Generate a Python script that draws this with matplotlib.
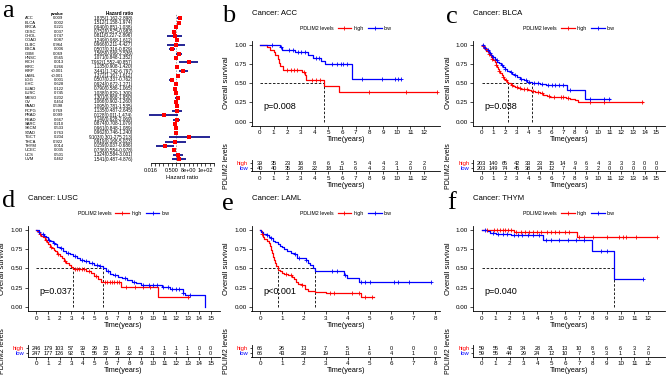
import numpy as np
import matplotlib
matplotlib.use("Agg")
import matplotlib.pyplot as plt
from matplotlib.lines import Line2D
from matplotlib import transforms

plt.rcParams['font.family'] = ['Liberation Sans', 'DejaVu Sans']

# ---------------- data: forest plot (panel a) ----------------
cancers = ["ACC", "BLCA", "BRCA", "CESC", "CHOL", "COAD", "DLBC", "ESCA", "GBM", "HNSC",
           "KICH", "KIRC", "KIRP", "LAML", "LGG", "LIHC", "LUAD", "LUSC", "MESO", "OV",
           "PAAD", "PCPG", "PRAD", "READ", "SARC", "SKCM", "STAD", "TGCT", "THCA", "THYM",
           "UCEC", "UCS", "UVM"]
hr = [1.835, 1.512, 0.940, 0.752, 0.811, 1.249, 0.966, 0.507, 1.565, 1.071,
      7.962, 1.135, 3.441, 1.372, 0.507, 0.924, 0.790, 1.038, 1.301, 1.066,
      1.095, 1.135, 0.128, 1.140, 0.874, 0.961, 0.962, 9.103, 0.919, 0.159,
      0.736, 1.324, 1.541]
hr_low = [1.162, 1.158, 0.851, 0.575, 0.227, 0.968, 0.211, 0.316, 0.966, 0.848,
          1.552, 0.908, 1.742, 1.167, 0.337, 0.672, 0.586, 0.829, 0.868, 0.902,
          0.781, 0.487, 0.011, 0.628, 0.708, 0.848, 0.746, 0.301, 0.168, 0.037,
          0.554, 0.584, 0.487]
hr_high = [2.898, 1.974, 1.038, 0.983, 2.896, 1.612, 4.427, 0.829, 2.536, 1.352,
           40.857, 1.420, 6.797, 1.612, 0.762, 1.271, 1.065, 1.300, 1.950, 1.260,
           1.535, 2.645, 1.474, 2.069, 1.079, 1.089, 1.240, 275.213, 5.023, 0.686,
           0.978, 3.001, 4.876]
pvalues = ["0.009", "0.002", "0.221", "0.037", "0.747", "0.087", "0.964", "0.006", "0.069", "0.565",
           "0.013", "0.266", "<0.001", "<0.001", "0.001", "0.628", "0.122", "0.745", "0.202", "0.454",
           "0.598", "0.769", "0.099", "0.667", "0.210", "0.533", "0.763", "0.204", "0.922", "0.014",
           "0.035", "0.501", "0.462"]
forest_tick_exp = list(range(-6, 10))
forest_tick_labels = {-6: "0.016", -1: "0.500", 3: "8e+00", 7: "1e+02"}

# ---------------- data: KM curves ----------------
# ACC
acc_high_t = [0, 0.5, 0.75, 1.0, 1.1, 1.3, 1.4, 1.5, 1.7, 3.05, 3.3, 3.4, 4.68, 5.8, 12.95]
acc_high_s = [1, 0.97, 0.93, 0.90, 0.87, 0.81, 0.76, 0.72, 0.67, 0.64, 0.60, 0.54, 0.46, 0.38, 0.38]
acc_high_cens = [2.0, 2.3, 2.5, 2.7, 3.2, 3.8, 4.1, 4.4, 8.0, 10.7, 12.95]
acc_low_t = [0, 1.45, 1.6, 2.55, 3.5, 3.9, 4.45, 4.75, 6.7, 10.35]
acc_low_s = [1, 0.97, 0.93, 0.90, 0.86, 0.83, 0.79, 0.75, 0.56, 0.56]
acc_low_cens = [0.9, 1.55, 2.1, 2.4, 2.8, 3.0, 3.3, 4.1, 4.3, 5.3, 5.6, 5.9, 6.1, 6.35, 7.5, 8.9, 9.9, 10.1, 10.35]
acc_risk_high = [39, 35, 23, 16, 8, 6, 5, 5, 4, 4, 3, 2, 2]
acc_risk_low = [40, 40, 35, 28, 22, 18, 11, 6, 4, 3, 1, 0, 0]

# BLCA
blca_high_t = [0, 0.1, 0.2, 0.3, 0.4, 0.5, 0.6, 0.7, 0.8, 0.9, 1.0, 1.1, 1.2, 1.3, 1.4, 1.5, 1.6, 1.7, 1.8, 1.9,
               2.0, 2.15, 2.3, 2.5, 2.7, 2.9, 3.1, 3.4, 3.7, 4.0, 4.2, 4.6, 5.0, 5.3, 5.6, 5.9, 7.2, 7.6, 8.0, 8.3, 13.9]
blca_high_s = [1, 0.98, 0.96, 0.94, 0.92, 0.90, 0.88, 0.86, 0.84, 0.82, 0.80, 0.77, 0.74, 0.71, 0.68, 0.66, 0.63, 0.61,
               0.58, 0.56, 0.54, 0.52, 0.50, 0.48, 0.46, 0.45, 0.44, 0.43, 0.42, 0.41, 0.40, 0.39, 0.37, 0.35, 0.33,
               0.32, 0.31, 0.30, 0.28, 0.26, 0.26]
blca_high_cens = [0.15, 0.35, 0.6, 0.9, 1.2, 1.5, 1.8, 2.1, 2.6, 3.0, 3.3, 3.6, 3.9, 4.4, 4.8, 5.2, 5.8, 6.2,
                  6.8, 7.0, 7.4, 9.3, 10.5, 13.8]
blca_low_t = [0, 0.1, 0.2, 0.3, 0.4, 0.5, 0.6, 0.7, 0.8, 0.9, 1.0, 1.1, 1.2, 1.35, 1.5, 1.65, 1.8, 2.0, 2.2, 2.4,
              2.6, 2.8, 3.0, 3.3, 3.6, 3.9, 4.3, 5.0, 5.5, 7.3, 8.9, 11.0]
blca_low_s = [1, 0.99, 0.97, 0.96, 0.94, 0.93, 0.91, 0.89, 0.87, 0.85, 0.84, 0.82, 0.80, 0.78, 0.76, 0.74, 0.71,
              0.68, 0.66, 0.64, 0.62, 0.60, 0.58, 0.56, 0.54, 0.52, 0.50, 0.49, 0.47, 0.41, 0.30, 0.30]
blca_low_cens = [0.1, 0.3, 0.5, 0.7, 1.0, 1.3, 1.7, 2.0, 2.5, 2.9, 3.4, 3.8, 4.1, 4.5, 4.8, 5.2, 5.7, 6.0,
                 6.3, 6.6, 7.0, 7.6, 9.3, 10.5, 10.9]
blca_risk_high = [203, 140, 65, 42, 33, 23, 15, 14, 9, 6, 4, 3, 3, 3, 0, 0]
blca_risk_low = [203, 149, 74, 45, 38, 24, 12, 7, 4, 3, 2, 0, 0, 0, 0, 0]

# LUSC
lusc_high_t = [0, 0.1, 0.2, 0.3, 0.45, 0.6, 0.75, 0.9, 1.05, 1.2, 1.35, 1.5, 1.65, 1.8, 2.0, 2.2, 2.4, 2.6, 2.8,
               3.0, 3.15, 4.3, 4.7, 5.0, 5.3, 5.6, 7.3, 10.5, 13.1]
lusc_high_s = [1, 0.98, 0.96, 0.94, 0.92, 0.90, 0.87, 0.84, 0.81, 0.78, 0.76, 0.74, 0.72, 0.69, 0.66, 0.63, 0.60,
               0.57, 0.55, 0.52, 0.49, 0.46, 0.44, 0.40, 0.36, 0.33, 0.26, 0.13, 0.13]
lusc_high_cens = [0.3, 0.8, 1.3, 1.9, 2.5, 3.3, 3.5, 3.7, 3.9, 4.1, 4.5, 5.1, 5.9, 6.1, 6.3, 6.5, 6.7, 6.9,
                  7.1, 7.7, 8.5, 9.2, 9.8, 13.0]
lusc_low_t = [0, 0.1, 0.2, 0.35, 0.5, 0.65, 0.8, 1.0, 1.2, 1.4, 1.6, 1.8, 2.0, 2.3, 2.6, 2.9, 3.2, 3.5, 3.8, 4.1,
              4.5, 5.0, 5.4, 5.7, 6.0, 6.3, 6.6, 7.0, 7.4, 7.8, 8.2, 8.6, 9.0, 9.5, 10.2, 10.8, 11.5, 12.6, 12.8, 14.5]
lusc_low_s = [1, 0.99, 0.97, 0.95, 0.94, 0.92, 0.90, 0.87, 0.85, 0.83, 0.81, 0.78, 0.76, 0.73, 0.70, 0.68, 0.66,
              0.64, 0.61, 0.59, 0.57, 0.55, 0.53, 0.50, 0.46, 0.43, 0.41, 0.39, 0.37, 0.35, 0.33, 0.31, 0.29,
              0.29, 0.28, 0.26, 0.24, 0.18, 0.16, 0.0]
lusc_low_cens = [0.2, 0.6, 1.1, 1.5, 2.1, 2.7, 3.3, 3.9, 4.3, 4.8, 5.2, 5.5, 6.2, 6.8, 7.6, 8.4, 9.2, 9.7,
                 10.0, 10.4, 10.9, 11.3, 11.7, 12.0, 12.3, 12.6, 13.2]
lusc_risk_high = [246, 179, 103, 57, 39, 29, 15, 11, 6, 4, 3, 1, 1, 1, 0, 0]
lusc_risk_low = [247, 177, 126, 92, 71, 55, 37, 26, 22, 15, 11, 8, 4, 1, 1, 0]

# LAML
laml_high_t = [0, 0.05, 0.1, 0.15, 0.2, 0.3, 0.4, 0.45, 0.5, 0.55, 0.6, 0.65, 0.7, 0.75, 0.83, 0.9, 1.0, 1.1,
               1.3, 1.45, 1.55, 1.65, 1.75, 1.9, 2.05, 2.2, 2.5, 3.0, 4.6, 5.2]
laml_high_s = [1, 0.98, 0.94, 0.91, 0.88, 0.86, 0.83, 0.79, 0.74, 0.70, 0.65, 0.61, 0.57, 0.53, 0.48, 0.46, 0.44,
               0.43, 0.42, 0.39, 0.36, 0.33, 0.30, 0.28, 0.24, 0.21, 0.20, 0.18, 0.13, 0.13]
laml_high_cens = [0.1, 1.2, 1.4, 1.9, 3.2, 3.4, 4.2, 4.5, 4.8, 5.1]
laml_low_t = [0, 0.05, 0.15, 0.3, 0.4, 0.5, 0.6, 0.7, 0.8, 0.9, 1.0, 1.1, 1.25, 1.4, 1.55, 1.7, 2.1, 2.2, 2.3,
              2.4, 2.5, 3.85, 3.95, 4.5, 7.83]
laml_low_s = [1, 0.97, 0.95, 0.93, 0.91, 0.89, 0.86, 0.84, 0.81, 0.79, 0.77, 0.75, 0.72, 0.70, 0.68, 0.64, 0.61,
              0.57, 0.54, 0.51, 0.47, 0.42, 0.38, 0.33, 0.33]
laml_low_cens = [0.3, 0.5, 1.6, 1.8, 2.1, 3.3, 3.5, 3.9, 4.6, 4.8, 5.0, 6.1, 6.3, 6.8, 7.83]
laml_risk_high = [66, 26, 13, 7, 5, 1, 0, 0, 0]
laml_risk_low = [66, 43, 28, 19, 11, 6, 4, 1, 0]

# THYM
thym_high_t = [0, 2.3, 6.85, 12.6]
thym_high_s = [1, 0.97, 0.90, 0.90]
thym_high_cens = [0.4, 0.9, 1.1, 1.3, 1.5, 1.7, 1.9, 2.1, 2.5, 2.8, 3.1, 3.4, 3.7, 4.0, 4.3, 4.7, 5.0, 5.3,
                  5.6, 6.0, 6.3, 7.0, 7.4, 8.0, 9.0, 9.9, 10.2, 10.4, 11.1, 12.6]
thym_low_t = [0, 0.35, 0.6, 1.0, 2.1, 4.4, 7.95, 9.55, 11.6]
thym_low_s = [1, 0.98, 0.96, 0.95, 0.93, 0.87, 0.73, 0.36, 0.36]
thym_low_cens = [0.2, 0.8, 1.2, 1.5, 1.8, 2.3, 2.6, 2.9, 3.3, 3.7, 4.1, 4.6, 5.0, 5.6, 6.2, 6.8, 7.4, 8.6,
                 9.0, 11.6]
thym_risk_high = [59, 55, 43, 34, 28, 21, 13, 10, 8, 6, 6, 3, 2]
thym_risk_low = [59, 55, 44, 29, 24, 12, 10, 7, 5, 3, 1, 1, 0]

RED = "#FF0000"
BLUE = "#0000FF"
W, H = 668, 377
fig = plt.figure(figsize=(W / 100, H / 100), dpi=100)


def box(x0, y0, x1, y1):
    return [x0 / W, 1 - y1 / H, (x1 - x0) / W, (y1 - y0) / H]


# ---------------- panel a: forest plot ----------------
fig.text(2 / W, 1 - 17 / H, "a", family="Liberation Serif", fontsize=19, ha="left", va="baseline")
axf = fig.add_axes(box(146.6, 13.9, 218.0, 162.7))
axf.set_xscale("log", base=2)
axf.set_xlim(2.0 ** -7, 2.0 ** 10)
rows = np.arange(len(cancers))
axf.set_ylim(32.8, -1.0)
axf.axvline(1, color="#777777", ls=(0, (2, 2)), lw=0.5, zorder=1)
axf.hlines(rows, hr_low, hr_high, color="#14148C", lw=1.3, zorder=2)
axf.scatter(hr, rows, marker="s", s=9, color=RED, zorder=3, linewidths=0)
for side in ["top", "right", "left"]:
    axf.spines[side].set_visible(False)
axf.spines["bottom"].set_linewidth(0.6)
axf.spines["bottom"].set_bounds(2.0 ** forest_tick_exp[0], 2.0 ** forest_tick_exp[-1])
axf.set_yticks([])
axf.set_xticks([2.0 ** k for k in forest_tick_exp])
axf.set_xticklabels([forest_tick_labels.get(k, "") for k in forest_tick_exp])
axf.xaxis.set_minor_locator(matplotlib.ticker.NullLocator())
axf.tick_params(axis="x", length=2.5, width=0.5, pad=1.5, labelsize=4)
axf.set_xlabel("Hazard ratio", fontsize=4.2, labelpad=1)
tr = transforms.blended_transform_factory(fig.transFigure, axf.transData)
for i, c in enumerate(cancers):
    axf.text(25 / W, i, c, transform=tr, ha="left", va="center", fontsize=3.0)
    axf.text(63.5 / W, i, pvalues[i], transform=tr, ha="right", va="center", fontsize=3.0)
    axf.text(133 / W, i, f"{hr[i]:.3f}({hr_low[i]:.3f}-{hr_high[i]:.3f})", transform=tr,
             ha="right", va="center", fontsize=3.3)
axf.text(63.5 / W, -1, "pvalue", transform=tr, ha="right", va="center", fontsize=3.0, fontweight="bold")
axf.text(133 / W, -1, "Hazard ratio", transform=tr, ha="right", va="center", fontsize=3.3, fontweight="bold")

# ---------------- KM panels ----------------
cols = {0: (27.5, 219.5), 1: (251.5, 440.0), 2: (473.0, 665.0)}
rows_main = {0: (40.8, 125.5), 1: (225.8, 311.0)}
rows_risk = {0: (160.0, 171.5), 1: (345.0, 356.5)}

panels = [
    dict(letter="b", lpos=(222, 22), col=1, row=0, name="ACC", xlim=(-0.62, 13.17), tmax=12, p="p=0.008",
         high=(acc_high_t, acc_high_s, acc_high_cens), low=(acc_low_t, acc_low_s, acc_low_cens),
         rh=acc_risk_high, rl=acc_risk_low),
    dict(letter="c", lpos=(446, 23), col=2, row=0, name="BLCA", xlim=(-0.75, 15.75), tmax=15, p="p=0.038",
         high=(blca_high_t, blca_high_s, blca_high_cens), low=(blca_low_t, blca_low_s, blca_low_cens),
         rh=blca_risk_high, rl=blca_risk_low),
    dict(letter="d", lpos=(2, 207), col=0, row=1, name="LUSC", xlim=(-0.75, 15.75), tmax=15, p="p=0.037",
         high=(lusc_high_t, lusc_high_s, lusc_high_cens), low=(lusc_low_t, lusc_low_s, lusc_low_cens),
         rh=lusc_risk_high, rl=lusc_risk_low),
    dict(letter="e", lpos=(222, 210), col=1, row=1, name="LAML", xlim=(-0.39, 8.22), tmax=8, p="p<0.001",
         high=(laml_high_t, laml_high_s, laml_high_cens), low=(laml_low_t, laml_low_s, laml_low_cens),
         rh=laml_risk_high, rl=laml_risk_low),
    dict(letter="f", lpos=(447, 209), col=2, row=1, name="THYM", xlim=(-0.63, 13.2), tmax=12, p="p=0.040",
         high=(thym_high_t, thym_high_s, thym_high_cens), low=(thym_low_t, thym_low_s, thym_low_cens),
         rh=thym_risk_high, rl=thym_risk_low),
]


def median_time(t, s):
    s = np.asarray(s)
    idx = np.where(s <= 0.5)[0]
    return t[idx[0]] if len(idx) else None


for P in panels:
    x0, x1 = cols[P["col"]]
    y0, y1 = rows_main[P["row"]]
    r0, r1 = rows_risk[P["row"]]
    wpx = x1 - x0
    hpx = y1 - y0
    fig.text(P["lpos"][0] / W, 1 - P["lpos"][1] / H, P["letter"], family="Liberation Serif",
             fontsize=19, ha="left", va="baseline")
    ax = fig.add_axes(box(x0, y0, x1, y1))
    ax.set_xlim(*P["xlim"])
    ax.set_ylim(-0.05, 1.05)
    meds = []
    for (t, s, cens), col in [(P["high"], RED), (P["low"], BLUE)]:
        t = np.asarray(t, float)
        s = np.asarray(s, float)
        ax.step(t, s, where="post", color=col, lw=0.9, zorder=3)
        cens = np.asarray(cens, float)
        cy = s[np.searchsorted(t, cens, side="right") - 1]
        ax.plot(cens, cy, ls="none", marker="+", ms=3.2, mew=0.6, color=col, zorder=4)
        m = median_time(t, s)
        if m is not None:
            meds.append(m)
    if meds:
        ax.plot([0, max(meds)], [0.5, 0.5], color="black", lw=0.6, ls=(0, (3, 2)), zorder=2)
        for m in meds:
            ax.plot([m, m], [0, 0.5], color="black", lw=0.6, ls=(0, (3, 2)), zorder=2)
    for side in ["top", "right"]:
        ax.spines[side].set_visible(False)
    for side in ["left", "bottom"]:
        ax.spines[side].set_linewidth(0.6)
    ax.set_xticks(range(0, P["tmax"] + 1))
    ax.set_yticks([0, 0.25, 0.5, 0.75, 1.0])
    ax.set_yticklabels(["0.00", "0.25", "0.50", "0.75", "1.00"])
    ax.tick_params(length=2, width=0.5, pad=1.5, labelsize=4.5)
    ax.set_xlabel("Time(years)", fontsize=5.2, labelpad=0.5)
    ax.set_ylabel("Overall survival", fontsize=5.5)
    ax.yaxis.set_label_coords(-21.5 / wpx, 0.5)
    ax.annotate(P["p"], xy=(0, 0.2), xycoords=("axes fraction", "data"), xytext=(8.3, 0),
                textcoords="offset points", ha="left", va="center", fontsize=6.5)
    ax.text(0, 1 + 27.5 / hpx, "Cancer: " + P["name"], transform=ax.transAxes, ha="left",
            va="center", fontsize=5.6)
    handles = [Line2D([], [], ls="none"),
               Line2D([], [], color=RED, lw=0.9, marker="+", ms=3.2, mew=0.6),
               Line2D([], [], color=BLUE, lw=0.9, marker="+", ms=3.2, mew=0.6)]
    fs = 3.8
    em = fs * 100 / 72
    shift = (2.6 + 0.4) * em / 2
    ax.legend(handles, ["PDLIM2 levels", "high", "low"], ncol=3, loc="center",
              bbox_to_anchor=(0.5 - shift / wpx, 1 + 12.5 / hpx), frameon=False, fontsize=fs,
              handlelength=2.6, handletextpad=0.4, columnspacing=0.8, borderpad=0, borderaxespad=0)

    # risk table
    ar = fig.add_axes(box(x0, r0, x1, r1))
    ar.set_xlim(*P["xlim"])
    ar.set_ylim(0.4, 2.6)
    for i, v in enumerate(P["rh"]):
        ar.text(i, 2, str(v), ha="center", va="center", fontsize=4)
    for i, v in enumerate(P["rl"]):
        ar.text(i, 1, str(v), ha="center", va="center", fontsize=4)
    for side in ["top", "right"]:
        ar.spines[side].set_visible(False)
    for side in ["left", "bottom"]:
        ar.spines[side].set_linewidth(0.6)
    ar.set_xticks(range(0, P["tmax"] + 1))
    ar.set_yticks([2, 1])
    ar.set_yticklabels(["high", "low"])
    ar.get_yticklabels()[0].set_color(RED)
    ar.get_yticklabels()[1].set_color(BLUE)
    ar.tick_params(axis="x", length=2, width=0.5, pad=1.5, labelsize=4.5)
    ar.tick_params(axis="y", length=1.5, width=0.5, pad=1, labelsize=4.2)
    ar.set_xlabel("Time(years)", fontsize=5.2, labelpad=0.5)
    ar.set_ylabel("PDLIM2 levels", fontsize=5.0)
    ar.yaxis.set_label_coords(-21.5 / wpx, 0.5)

fig.savefig("out.png", dpi=100)
